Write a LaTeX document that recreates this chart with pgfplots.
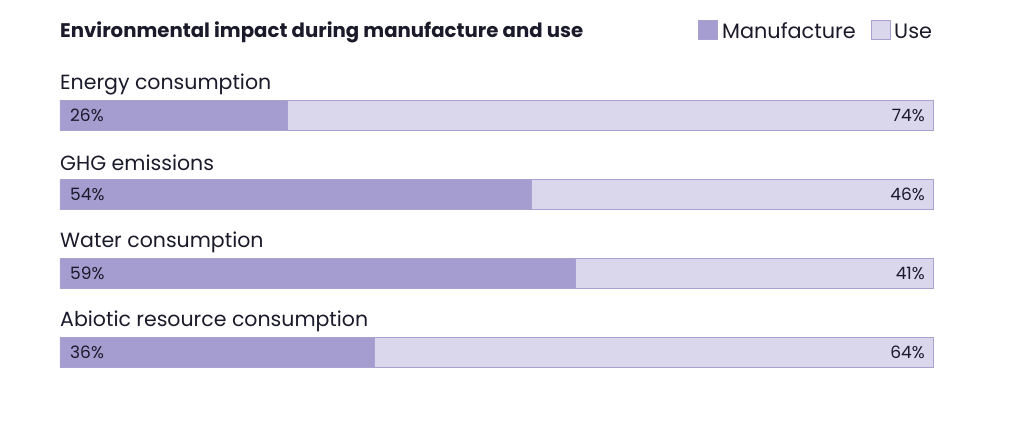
\documentclass[border=0pt]{standalone}
\usepackage{pgfplots}
\pgfplotsset{compat=1.18}
\usepackage{fontspec}
\setmainfont{Poppins}
\definecolor{manu}{HTML}{A59CCF}
\definecolor{useC}{HTML}{DAD6EC}
\definecolor{edge}{HTML}{A9A1CF}
\definecolor{txt}{HTML}{1A1A2A}

\begin{document}
\begin{tikzpicture}[x=1pt,y=1pt]
\path[use as bounding box] (-60,0) rectangle (964,429);
\begin{axis}[
    at={(0,0)}, anchor=south west,
    scale only axis,
    width=873pt, height=429pt,
    xmin=0, xmax=100,
    ymin=0, ymax=429,
    y dir=reverse,
    axis lines=none,
    xbar stacked,
    bar width=30pt,
    clip=false,
]
\addplot[fill=manu, draw=edge, line width=0.8pt] coordinates {(26,115) (54,194.5) (59,273.5) (36,352.5)};
\addplot[fill=useC, draw=edge, line width=0.8pt] coordinates {(74,115) (46,194.5) (41,273.5) (64,352.5)};

\end{axis}
% text, in picture coordinates (x = px-60, y = 429-py)
\begin{scope}[every node/.style={text=txt, inner sep=0pt}]
\node[anchor=west, font=\fontsize{19.7}{23}\selectfont\bfseries] at (0,397) {Environmental impact during manufacture and use};
\fill[manu, draw=edge, line width=0.6pt] (638,390) rectangle (657,409);
\node[anchor=west, font=\fontsize{20.8}{24}\selectfont] at (662,398) {Manufacture};
\fill[useC, draw=edge, line width=0.6pt] (811,390) rectangle (830,409);
\node[anchor=west, font=\fontsize{20.8}{24}\selectfont] at (834,398) {Use};
\foreach \lab/\py in {Energy consumption/84, GHG emissions/163, Water consumption/242, Abiotic resource consumption/321}{
  \node[anchor=west, font=\fontsize{20.5}{24}\selectfont] at (0,429-\py) {\lab};
}
\foreach \a/\b/\py in {26/74/115, 54/46/194.5, 59/41/273.5, 36/64/352.5}{
  \node[anchor=west, font=\fontsize{17}{20}\selectfont] at (10,429-\py) {\a\%};
  \node[anchor=east, font=\fontsize{17}{20}\selectfont] at (865,429-\py) {\b\%};
}
\end{scope}
\end{tikzpicture}
\end{document}
